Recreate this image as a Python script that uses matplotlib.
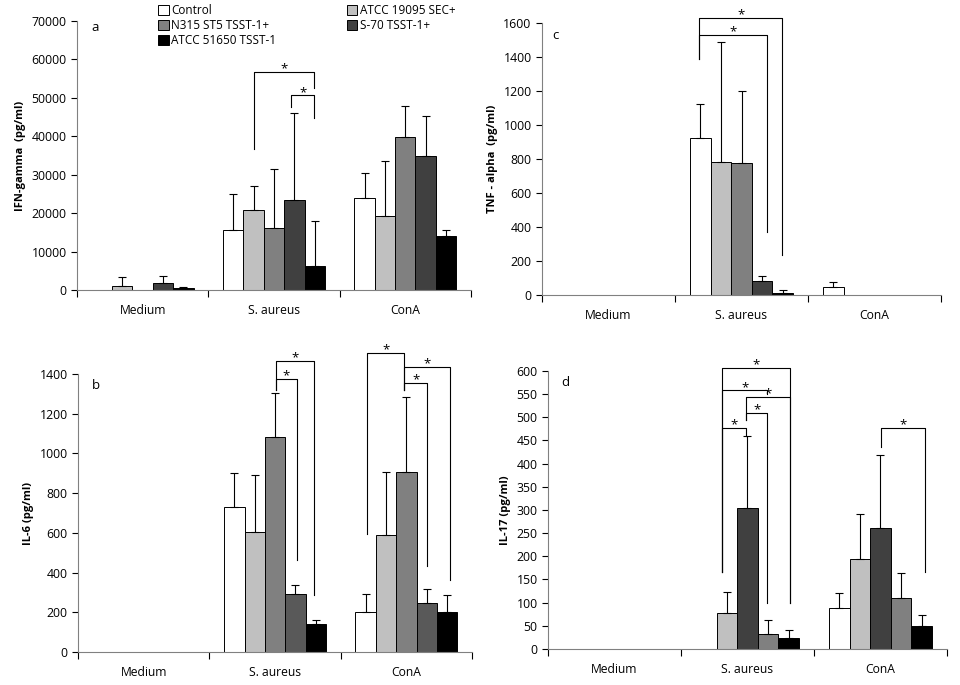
#!/usr/bin/env python3
"""Cytokine bar chart grid (IFN-gamma, TNF-alpha, IL-6, IL-17) with significance brackets."""

import numpy as np
import matplotlib
matplotlib.use("Agg")
import matplotlib.pyplot as plt
from matplotlib.patches import Patch

plt.rcParams["font.family"] = ["Open Sans", "DejaVu Sans"]

CATEGORIES = ["Medium", "S. aureus", "ConA"]
STRAINS = ["Control", "ATCC 19095 SEC+", "N315 ST5 TSST-1+", "S-70 TSST-1+", "ATCC 51650 TSST-1"]

# panel a: IFN-gamma (pg/ml), means and upper error per strain
IFN_MEAN = [
    [0, 15530, 23850],
    [1040, 20730, 19170],
    [0, 16050, 39810],
    [1730, 23330, 34870],
    [430, 6240, 13960],
]
IFN_ERR = [
    [0, 9370, 6500],
    [2260, 6330, 14310],
    [0, 15430, 7980],
    [1820, 22640, 10320],
    [270, 11710, 1650],
]

# panel b: IL-6 (pg/ml)
IL6_MEAN = [
    [0, 732, 203],
    [0, 606, 591],
    [0, 1085, 908],
    [0, 294, 248],
    [0, 139, 203],
]
IL6_ERR = [
    [0, 171, 91],
    [0, 287, 317],
    [0, 221, 376],
    [0, 45, 71],
    [0, 24, 86],
]

# panel c: TNF-alpha (pg/ml)
TNF_MEAN = [
    [0, 921, 47],
    [0, 780, 0],
    [0, 775, 0],
    [0, 82, 0],
    [0, 12, 0],
]
TNF_ERR = [
    [0, 204, 29],
    [0, 710, 0],
    [0, 424, 0],
    [0, 29, 0],
    [0, 17, 0],
]

# panel d: IL-17 (pg/ml)
IL17_MEAN = [
    [0, 0, 88],
    [0, 78, 194],
    [0, 304, 261],
    [0, 32, 110],
    [0, 24, 50],
]
IL17_ERR = [
    [0, 0, 33],
    [0, 45, 97],
    [0, 156, 158],
    [0, 31, 54],
    [0, 17, 23],
]

# significance brackets: (x_left, x_right, y_top, y_left_end, y_right_end)
IFN_BRACKETS = [
    (0.848, 1.308, 56730, 36690, 52650),
    (1.132, 1.308, 50660, 47530, 44670),
]
IL6_BRACKETS = [
    (1.009, 1.298, 1467, 1318, 285),
    (1.009, 1.164, 1377, 1318, 462),
    (1.702, 1.984, 1508, 596, 1318),
    (1.984, 2.332, 1437, 1318, 364),
    (1.984, 2.157, 1357, 1318, 433),
]
TNF_BRACKETS = [
    (0.681, 1.306, 1631, 1391, 237),
    (0.681, 1.194, 1528, 1391, 370),
]
IL17_BRACKETS = [
    (0.810, 1.3175, 606, 166, 99),
    (0.810, 1.1475, 558, 166, 550),
    (0.990, 1.3175, 544, 495, 99),
    (0.990, 1.1475, 509, 495, 99),
    (0.810, 0.990, 477, 166, 459),
    (2.0025, 2.3375, 477, 436, 166),
]

WHITE, LIGHT, MID, DARK, DARK2, BLACK = "#ffffff", "#c0c0c0", "#808080", "#404040", "#595959", "#000000"
BAR_W = 0.155


def draw_panel(ax, means, errs, colors, ymax, ystep, ylabel, letter, letter_xy, brackets):
    x = np.arange(len(CATEGORIES))
    n = len(means)
    for i in range(n):
        pos = x + (i - (n - 1) / 2) * BAR_W
        m = np.asarray(means[i], dtype=float)
        e = np.asarray(errs[i], dtype=float)
        ax.bar(pos, m, BAR_W, color=colors[i], edgecolor="black", linewidth=0.7, zorder=2)
        keep = e > 0
        if keep.any():
            ax.errorbar(pos[keep], m[keep], yerr=[np.zeros(keep.sum()), e[keep]],
                        fmt="none", ecolor="black", elinewidth=0.8, capsize=2.8,
                        capthick=0.8, zorder=3)

    for xl, xr, yt, yl, yr in brackets:
        ax.plot([xl, xl, xr, xr], [yl, yt, yt, yr], color="black", lw=0.8,
                clip_on=False, zorder=4)
        ax.annotate("*", ((xl + xr) / 2, yt), xytext=(0, -2.5), textcoords="offset points",
                    ha="center", va="bottom", fontsize=9.5, annotation_clip=False)

    ax.set_xlim(-0.5, 2.5)
    ax.set_ylim(0, ymax)
    ax.set_yticks(np.arange(0, ymax + ystep / 2, ystep))
    ax.tick_params(axis="y", labelsize=8.8, length=4, width=0.8, direction="out")
    # Excel-style category axis: ticks on group boundaries, labels at centres
    ax.set_xticks([-0.5, 0.5, 1.5, 2.5])
    ax.set_xticklabels([])
    ax.tick_params(axis="x", which="major", length=5, width=0.8, direction="out")
    ax.set_xticks(x, minor=True)
    ax.set_xticklabels(CATEGORIES, minor=True, fontsize=8.7)
    ax.tick_params(axis="x", which="minor", length=0, pad=10)
    for side in ("top", "right"):
        ax.spines[side].set_visible(False)
    for side in ("left", "bottom"):
        ax.spines[side].set_linewidth(0.8)
        ax.spines[side].set_color("#808080")
    ax.set_ylabel(ylabel, fontsize=8, fontweight="bold", labelpad=4)
    ax.text(letter_xy[0], letter_xy[1], letter, transform=ax.transAxes,
            fontsize=9.5, va="center", ha="left")


def main():
    fig = plt.figure(figsize=(9.6, 6.85), dpi=100)
    ax_a = fig.add_axes([0.0802, 0.5766, 0.4104, 0.3927])
    ax_c = fig.add_axes([0.5646, 0.5693, 0.4156, 0.3971])
    ax_b = fig.add_axes([0.0813, 0.0482, 0.4104, 0.4058])
    ax_d = fig.add_axes([0.5708, 0.0526, 0.4156, 0.4058])

    std = [WHITE, LIGHT, MID, DARK, BLACK]
    draw_panel(ax_a, IFN_MEAN, IFN_ERR, std, 70000, 10000,
               "IFN-gamma  (pg/ml)", "a", (0.036, 0.975), IFN_BRACKETS)
    draw_panel(ax_c, TNF_MEAN, TNF_ERR, std, 1600, 200,
               "TNF - alpha  (pg/ml)", "c", (0.026, 0.955), TNF_BRACKETS)
    draw_panel(ax_b, IL6_MEAN, IL6_ERR, [WHITE, LIGHT, MID, DARK2, BLACK], 1400, 200,
               "IL-6 (pg/ml)", "b", (0.036, 0.96), IL6_BRACKETS)
    draw_panel(ax_d, IL17_MEAN, IL17_ERR, [WHITE, LIGHT, DARK, MID, BLACK], 600, 50,
               "IL-17 (pg/ml)", "d", (0.033, 0.96), IL17_BRACKETS)

    # legend, filled row by row
    handles = [Patch(facecolor=c, edgecolor="black", linewidth=0.7) for c in std]
    order = [0, 2, 4, 1, 3]
    fig.legend([handles[i] for i in order], [STRAINS[i] for i in order],
               ncol=2, loc="upper left", bbox_to_anchor=(0.162, 0.997),
               frameon=False, fontsize=8.5, handlelength=0.9, handleheight=0.9,
               handletextpad=0.2, columnspacing=6.0, labelspacing=0.15,
               borderaxespad=0.0, borderpad=0.2)

    fig.savefig("out.png", dpi=100)
    plt.close(fig)


if __name__ == "__main__":
    main()
